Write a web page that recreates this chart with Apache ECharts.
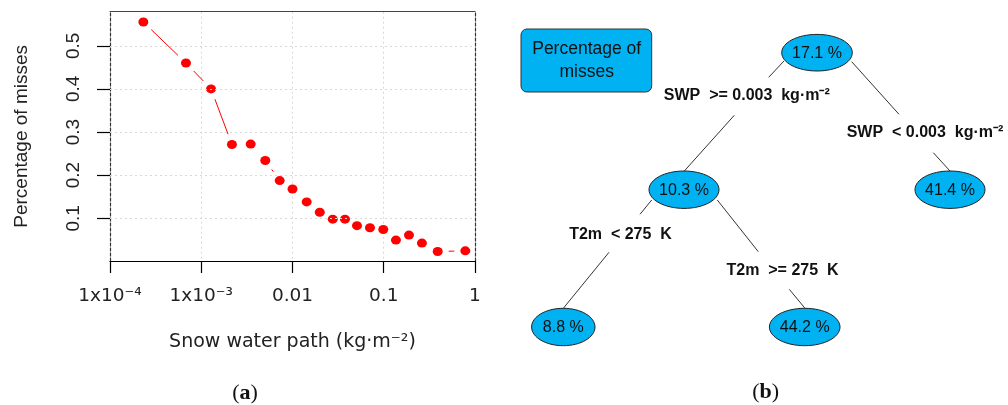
<!DOCTYPE html>
<html><head><meta charset="utf-8">
<script src="https://cdn.jsdelivr.net/npm/echarts@6/dist/echarts.min.js"></script>
<style>html,body{margin:0;padding:0;background:#fff}#c{width:1008px;height:405px}</style>
</head><body><div id="c"></div>
<script>
// ---- data (panel a) ----
const swp = [2.32e-4, 6.8e-4, 1.28e-3, 2.17e-3, 3.48e-3, 5.03e-3, 7.24e-3, 0.0100, 0.0143, 0.0199,
             0.0276, 0.0376, 0.0509, 0.0706, 0.0988, 0.136, 0.189, 0.262, 0.390, 0.783];
const misses = [0.555, 0.460, 0.400, 0.271, 0.272, 0.234, 0.1875, 0.168, 0.138, 0.114,
                0.098, 0.098, 0.083, 0.078, 0.074, 0.0495, 0.061, 0.0426, 0.0231, 0.0245];
const xTicks = [1e-4, 1e-3, 1e-2, 1e-1, 1];
const xTickLabels = ['1x10⁻⁴', '1x10⁻³', '0.01', '0.1', '1'];
const yTicks = [0.1, 0.2, 0.3, 0.4, 0.5];
const xName = 'Snow water path (kg·m⁻²)';
const yName = 'Percentage of misses';

// ---- data (panel b: regression tree) ----
const legendTitle = ['Percentage of', 'misses'];
const nodeLabels = ['17.1 %', '10.3 %', '41.4 %', '8.8 %', '44.2 %'];
const splitLabels = ['SWP  >= 0.003  kg·m⁻²', 'SWP  < 0.003  kg·m⁻²', 'T2m  < 275  K', 'T2m  >= 275  K'];
const panelLabels = ['a', 'b'];

// ---- layout (positions, not data) ----
const nodeLayout = [[817, 52.7, 35.3, 18.3], [684, 189.7, 35, 18.7], [950, 189.7, 35, 18.7], [563.3, 327, 31.7, 18.7], [804.7, 327, 35.3, 18.7]];
const splitLayout = [[746.8, 96], [925, 132.7], [620.5, 234.3], [782.5, 271]];
const edgeLayout = [
  [784, 61, 768.7, 77.3], [734.3, 115.3, 684.3, 171],
  [851.7, 61.7, 899, 114.3], [933.3, 152.7, 950, 171],
  [651.7, 200, 640, 214.3], [609, 252.3, 563.3, 308.3],
  [717.3, 200, 758.3, 251.7], [789.3, 289.3, 805, 308.3]
];
const BLUE = '#00b2f2';
const GAP = 11; // R type="b" gap around points (px)

const chart = echarts.init(document.getElementById('c'), null, {renderer: 'canvas'});

const graphics = [];
graphics.push({type: 'rect', shape: {x: 521, y: 29, width: 130.7, height: 63, r: 6},
  style: {fill: BLUE, stroke: '#333', lineWidth: 1}});
legendTitle.forEach((t, i) => graphics.push({type: 'text', x: 586.7, y: 49.5 + i * 23,
  style: {text: t, fill: '#111', font: '17.5px "Liberation Sans", Arial, sans-serif',
    align: 'center', verticalAlign: 'middle', textAlign: 'center', textVerticalAlign: 'middle'}}));
edgeLayout.forEach(e => graphics.push({type: 'line', shape: {x1: e[0], y1: e[1], x2: e[2], y2: e[3]},
  style: {stroke: '#333', lineWidth: 1}}));
nodeLabels.forEach((t, i) => {
  const n = nodeLayout[i];
  graphics.push({type: 'ellipse', shape: {cx: n[0], cy: n[1], rx: n[2], ry: n[3]},
    style: {fill: BLUE, stroke: '#222', lineWidth: 1}});
  graphics.push({type: 'text', x: n[0], y: n[1] + 0.5,
    style: {text: t, fill: '#111', font: '16px "Liberation Sans", Arial, sans-serif',
      align: 'center', verticalAlign: 'middle', textAlign: 'center', textVerticalAlign: 'middle'}});
});
splitLabels.forEach((t, i) => {
  const p = splitLayout[i];
  graphics.push({type: 'text', x: p[0], y: p[1],
    style: {text: t, fill: '#111', font: 'bold 16px "Liberation Sans", Arial, sans-serif',
      align: 'center', verticalAlign: 'middle', textAlign: 'center', textVerticalAlign: 'middle'}});
});
[[245, 393], [765.7, 392]].forEach((p, i) => graphics.push({type: 'text', x: p[0], y: p[1],
  style: {text: '(' + '{b|' + panelLabels[i] + '})', fill: '#111',
    font: '22px "Liberation Serif", "DejaVu Serif", serif',
    rich: {b: {fontWeight: 'bold', fontSize: 22, fontFamily: '"Liberation Serif", "DejaVu Serif", serif', fill: '#111'}},
    align: 'center', verticalAlign: 'middle', textAlign: 'center', textVerticalAlign: 'middle'}}));

const xFmt = v => {
  const i = xTicks.findIndex(t => Math.abs(Math.log10(t) - Math.log10(v)) < 1e-6);
  return i >= 0 ? xTickLabels[i] : '';
};

const segData = swp.slice(0, -1).map((x, i) => [x, misses[i], swp[i + 1], misses[i + 1]]);

chart.setOption({
  animation: false,
  backgroundColor: '#fff',
  grid: {left: 110, top: 11.7, width: 365, height: 249.3, outerBoundsMode: 'none', containLabel: false},
  xAxis: [{
    type: 'log', logBase: 10, min: 1e-4, max: 1, position: 'bottom',
    name: xName, nameLocation: 'middle', nameGap: 72,
    nameTextStyle: {fontFamily: '"DejaVu Sans", sans-serif', fontSize: 19, color: '#222'},
    axisLine: {show: true, onZero: false, lineStyle: {color: '#000', width: 1.2}},
    axisTick: {show: true, length: 12, lineStyle: {color: '#000', width: 1.2}},
    axisLabel: {show: true, margin: 26, formatter: xFmt, showMinLabel: true, showMaxLabel: true,
      fontFamily: '"DejaVu Sans", sans-serif', fontSize: 18.5, color: '#222'},
    splitLine: {show: true, lineStyle: {color: '#d8d8d8', type: [2, 3], width: 1}},
    minorTick: {show: false}
  }, {
    type: 'log', logBase: 10, min: 1e-4, max: 1, position: 'top',
    axisLine: {show: true, onZero: false, lineStyle: {color: '#444', width: 1.2}},
    axisTick: {show: false}, axisLabel: {show: false}, splitLine: {show: false}
  }],
  yAxis: [{
    type: 'value', min: 0.001, max: 0.579, position: 'left',
    name: yName, nameLocation: 'middle', nameRotate: 90, nameGap: 79,
    nameTextStyle: {fontFamily: '"Liberation Sans", Arial, sans-serif', fontSize: 19, color: '#222'},
    axisLine: {show: true, onZero: false, lineStyle: {color: '#333', type: [3, 2], width: 1.2}},
    axisTick: {show: true, length: 13, customValues: yTicks, lineStyle: {color: '#000', width: 1.2}},
    axisLabel: {show: true, rotate: 90, margin: 27, customValues: yTicks,
      formatter: v => (+v).toFixed(1),
      fontFamily: '"Liberation Sans", Arial, sans-serif', fontSize: 19, color: '#222'},
    splitLine: {show: false}
  }, {
    type: 'value', min: 0.001, max: 0.579, position: 'right',
    axisLine: {show: true, onZero: false, lineStyle: {color: '#333', type: [3, 2], width: 1.2}},
    axisTick: {show: false}, axisLabel: {show: false}, splitLine: {show: false}
  }],
  series: [{
    type: 'line', xAxisIndex: 0, yAxisIndex: 0, data: [], z: 1, silent: true,
    markLine: {silent: true, symbol: 'none', label: {show: false},
      lineStyle: {color: '#d8d8d8', type: [2, 3], width: 1},
      emphasis: {disabled: true},
      data: yTicks.map(v => ({yAxis: v}))}
  }, {
    type: 'custom', xAxisIndex: 0, yAxisIndex: 0, z: 2, silent: true,
    data: segData,
    encode: {x: [0, 2], y: [1, 3]},
    renderItem: (params, api) => {
      const a = api.coord([api.value(0), api.value(1)]);
      const b = api.coord([api.value(2), api.value(3)]);
      const dx = b[0] - a[0], dy = b[1] - a[1];
      const d = Math.hypot(dx, dy);
      if (d <= 2 * GAP) return null;
      const ux = dx / d, uy = dy / d;
      return {type: 'line', shape: {x1: a[0] + ux * GAP, y1: a[1] + uy * GAP, x2: b[0] - ux * GAP, y2: b[1] - uy * GAP},
        style: {stroke: '#ff0000', lineWidth: 1}};
    }
  }, {
    type: 'scatter', xAxisIndex: 0, yAxisIndex: 0, z: 3,
    data: swp.map((x, i) => [x, misses[i]]),
    symbol: 'circle', symbolSize: [10, 9],
    itemStyle: {color: '#ff0000', opacity: 1}
  }],
  graphic: graphics
});
</script>
</body></html>
